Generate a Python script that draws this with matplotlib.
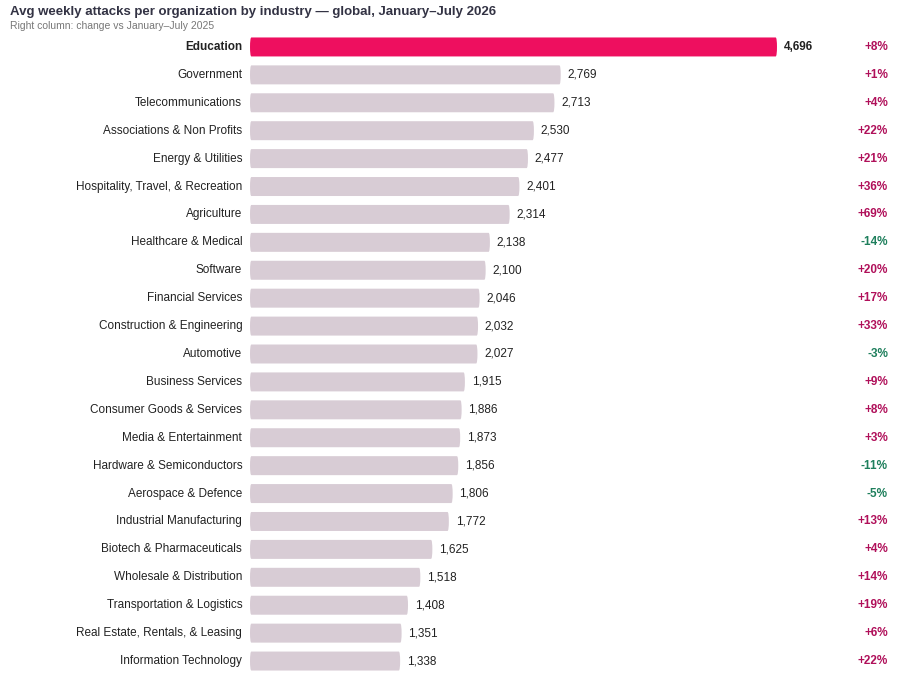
import matplotlib
matplotlib.use("Agg")
import matplotlib.pyplot as plt
from matplotlib.patches import FancyBboxPatch

industries = ["Education","Government","Telecommunications","Associations & Non Profits","Energy & Utilities",
"Hospitality, Travel, & Recreation","Agriculture","Healthcare & Medical","Software","Financial Services",
"Construction & Engineering","Automotive","Business Services","Consumer Goods & Services","Media & Entertainment",
"Hardware & Semiconductors","Aerospace & Defence","Industrial Manufacturing","Biotech & Pharmaceuticals",
"Wholesale & Distribution","Transportation & Logistics","Real Estate, Rentals, & Leasing","Information Technology"]
values = [4696,2769,2713,2530,2477,2401,2314,2138,2100,2046,2032,2027,1915,1886,1873,1856,1806,1772,1625,1518,1408,1351,1338]
changes = [8,1,4,22,21,36,69,-14,20,17,33,-3,9,8,3,-11,-5,13,4,14,19,6,22]

plt.rcParams['font.family'] = ['Liberation Sans', 'DejaVu Sans']
fig = plt.figure(figsize=(9.04, 6.82), dpi=100)
ax = fig.add_axes([250/904, 7/682, 527/904, 642/682])
n = len(values)
ax.set_xlim(0, max(values))
ax.set_ylim(n - 0.5, -0.5)
for i, (lab, v, c) in enumerate(zip(industries, values, changes)):
    col = "#EE0F5F" if i == 0 else "#D8CCD5"
    ax.add_patch(FancyBboxPatch((0, i - 0.34), v, 0.68, boxstyle="round,pad=0,rounding_size=12",
                                mutation_aspect=0.68/19*(527/4696)*0 + 0.03, fc=col, ec="none"))
    ax.text(-70, i, lab, ha="right", va="center", fontsize=8.5, color="#222222",
            fontweight="bold" if i == 0 else "normal")
    ax.text(v + 60, i, f"{v:,}", ha="left", va="center", fontsize=8.5, color="#222222",
            fontweight="bold" if i == 0 else "normal")
    ax.text(888/904, 0, f"{c:+d}%", transform=ax.get_yaxis_transform().__class__(fig.transFigure, ax.transData) if False else None) if False else None
    tr = matplotlib.transforms.blended_transform_factory(fig.transFigure, ax.transData)
    ax.text(888/904, i, f"{c:+d}%", transform=tr, ha="right", va="center", fontsize=8.5,
            fontweight="bold", color="#B0105A" if c > 0 else "#1E7F5C")
ax.axis("off")
fig.text(10/904, 1 - 12/682, "Avg weekly attacks per organization by industry — global, January–July 2026",
         fontsize=9.5, fontweight="bold", color="#333344", va="center")
fig.text(10/904, 1 - 26/682, "Right column: change vs January–July 2025", fontsize=7.5, color="#777777", va="center")
fig.savefig("out.png", dpi=100)
